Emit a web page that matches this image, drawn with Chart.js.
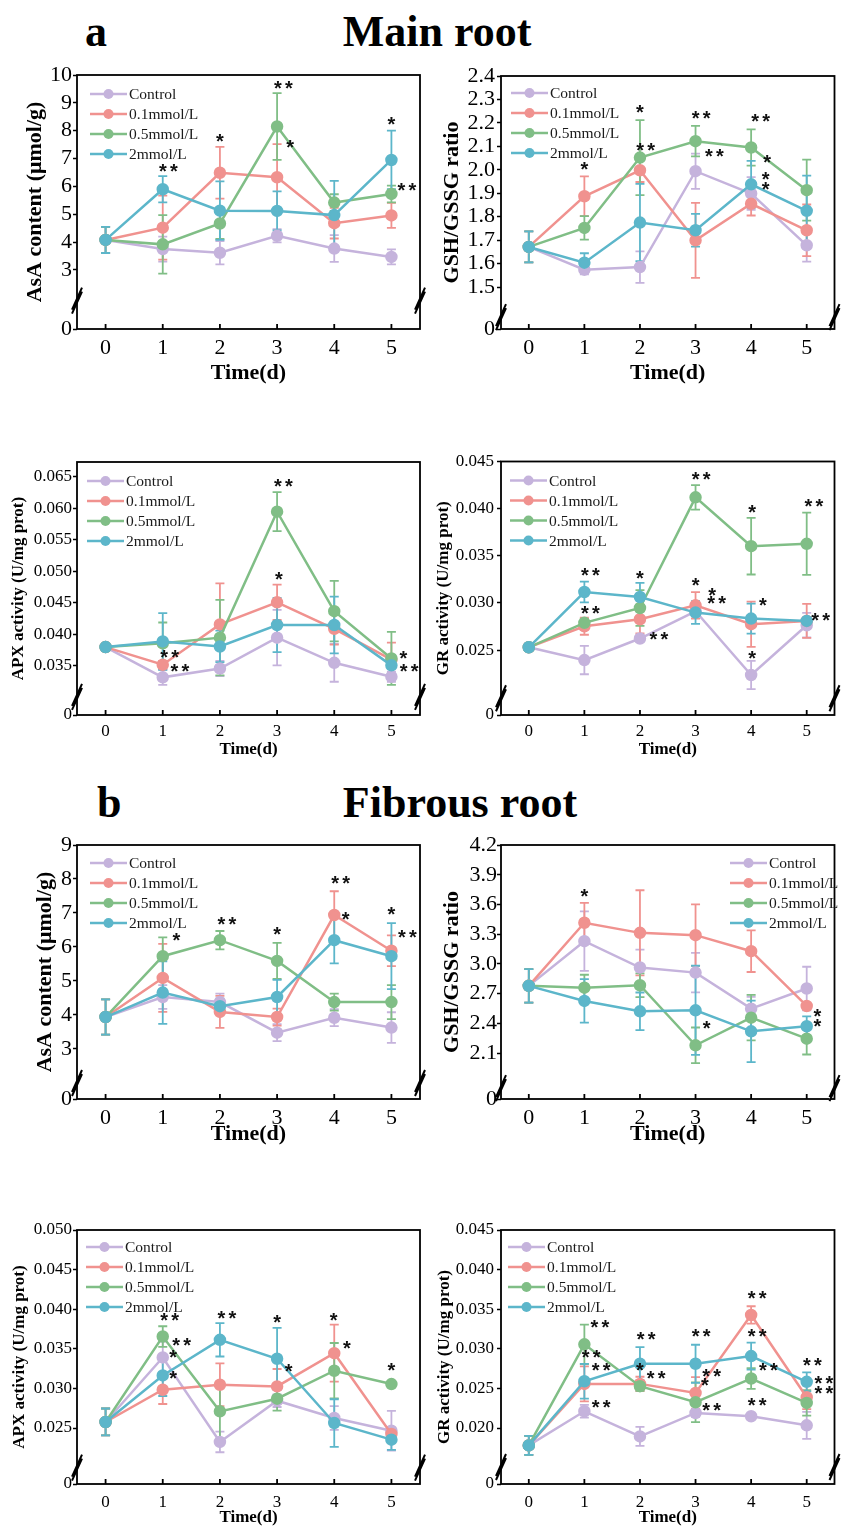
<!DOCTYPE html>
<html lang="en">
<head>
<meta charset="UTF-8">
<title>Main root / Fibrous root</title>
<script src="https://cdn.jsdelivr.net/npm/chart.js"></script>
<style>
  body { margin: 0; background: #fff; }
  #page { position: relative; width: 842px; height: 1529px; background: #fff; overflow: hidden; }
  #page canvas { position: absolute; }
  .head { position: absolute; font-family: "Liberation Serif", "Times New Roman", serif; font-weight: bold;
          font-size: 44px; line-height: 44px; color: #000; white-space: nowrap; }
</style>
</head>
<body>
<div id="page">
  <div class="head" style="left:85px;top:10px">a</div>
  <div class="head" style="left:237px;top:10px;width:400px;text-align:center">Main root</div>
  <div class="head" style="left:97px;top:781px">b</div>
  <div class="head" style="left:260px;top:781px;width:400px;text-align:center">Fibrous root</div>
</div>
<script>
const FONT = '"Liberation Serif", "Times New Roman", serif';

const days = [0, 1, 2, 3, 4, 5];
const seriesNames = ['Control', '0.1mmol/L', '0.5mmol/L', '2mmol/L'];
const seriesColors = ['#c5b3dc', '#f0928f', '#80be86', '#5cb6ca'];

// --- a: main root ---
const mainAsaTicks = [3, 4, 5, 6, 7, 8, 9, 10];
const mainAsaMean = [
  [4.08, 3.75, 3.62, 4.23, 3.77, 3.47],
  [4.08, 4.52, 6.49, 6.33, 4.68, 4.96],
  [4.08, 3.92, 4.67, 8.15, 5.42, 5.73],
  [4.08, 5.90, 5.13, 5.12, 4.97, 6.95]
];
const mainAsaErr = [
  [0.47, 0.45, 0.42, 0.24, 0.48, 0.27],
  [0.47, 1.15, 0.93, 1.19, 0.55, 0.45],
  [0.47, 1.05, 0.55, 1.20, 0.30, 0.30],
  [0.47, 0.47, 1.05, 0.70, 1.23, 1.05]
];
const mainAsaStars = [[1.1, 6.65, '**'], [2.0, 7.73, '*'], [3.11, 9.64, '**'], [3.23, 7.52, '*'], [5.0, 8.33, '*'], [5.27, 5.96, '**']];

const mainGshTicks = [1.5, 1.6, 1.7, 1.8, 1.9, 2.0, 2.1, 2.2, 2.3, 2.4];
const mainGshMean = [
  [1.671, 1.574, 1.585, 1.994, 1.899, 1.678],
  [1.671, 1.887, 1.998, 1.699, 1.855, 1.742],
  [1.671, 1.752, 2.052, 2.122, 2.095, 1.913],
  [1.671, 1.604, 1.775, 1.742, 1.938, 1.825]
];
const mainGshErr = [
  [0.066, 0.02, 0.067, 0.075, 0.07, 0.07],
  [0.066, 0.085, 0.05, 0.16, 0.05, 0.11],
  [0.066, 0.05, 0.16, 0.065, 0.077, 0.13],
  [0.066, 0.04, 0.165, 0.07, 0.10, 0.15]
];
const mainGshStars = [[1.0, 2.013, '*'], [2.0, 2.258, '*'], [2.1, 2.095, '**'], [3.1, 2.233, '**'], [3.34, 2.07, '**'],
  [4.17, 2.219, '**'], [4.29, 2.044, '*'], [4.26, 1.97, '*'], [4.26, 1.927, '*']];

const mainApxTicks = [0.035, 0.040, 0.045, 0.050, 0.055, 0.060, 0.065];
const mainApxMean = [
  [0.0380, 0.0332, 0.0346, 0.0395, 0.0355, 0.0333],
  [0.0380, 0.0352, 0.0416, 0.0451, 0.0409, 0.0360],
  [0.0380, 0.0386, 0.0395, 0.0595, 0.0437, 0.0362],
  [0.0380, 0.0389, 0.0381, 0.0415, 0.0415, 0.0351]
];
const mainApxErr = [
  [0.0005, 0.0012, 0.0012, 0.0044, 0.0030, 0.0008],
  [0.0005, 0.0006, 0.0065, 0.0028, 0.0025, 0.0027],
  [0.0005, 0.0033, 0.0060, 0.0031, 0.0048, 0.0042],
  [0.0005, 0.0045, 0.0025, 0.0043, 0.0045, 0.0015]
];
const mainApxStars = [[3.11, 0.0640, '**'], [3.03, 0.0492, '*'], [1.12, 0.0369, '**'], [1.30, 0.0346, '**'], [5.21, 0.0367, '*'], [5.31, 0.0346, '**']];

const mainGrTicks = [0.025, 0.030, 0.035, 0.040, 0.045];
const mainGrMean = [
  [0.0253, 0.02394, 0.02623, 0.02912, 0.02236, 0.02764],
  [0.0253, 0.02753, 0.02827, 0.02975, 0.02775, 0.02810],
  [0.0253, 0.02789, 0.02947, 0.04120, 0.03602, 0.03627],
  [0.0253, 0.03116, 0.03063, 0.02898, 0.02834, 0.02810]
];
const mainGrErr = [
  [0.0002, 0.0015, 0.0003, 0.0005, 0.0015, 0.0013],
  [0.0002, 0.0009, 0.0015, 0.0014, 0.0024, 0.0018],
  [0.0002, 0.0004, 0.0019, 0.0013, 0.0030, 0.0033],
  [0.0002, 0.0011, 0.0015, 0.0012, 0.0016, 0.0002]
];
const mainGrStars = [[3.1, 0.0434, '**'], [1.11, 0.03327, '**'], [1.11, 0.02922, '**'], [2.0, 0.03292, '*'], [2.34, 0.02641, '**'],
  [3.0, 0.03215, '*'], [3.3, 0.03116, '*'], [3.38, 0.03021, '**'], [4.02, 0.03986, '*'], [4.21, 0.0300, '*'],
  [4.02, 0.02447, '*'], [5.13, 0.04056, '**'], [5.25, 0.02845, '**']];

// --- b: fibrous root ---
const fibAsaTicks = [3, 4, 5, 6, 7, 8, 9];
const fibAsaMean = [
  [3.94, 4.53, 4.38, 3.48, 3.92, 3.63],
  [3.94, 5.09, 4.09, 3.94, 6.94, 5.89],
  [3.94, 5.73, 6.20, 5.59, 4.38, 4.38],
  [3.94, 4.66, 4.26, 4.53, 6.20, 5.73]
];
const fibAsaErr = [
  [0.52, 0.35, 0.25, 0.25, 0.25, 0.45],
  [0.52, 1.00, 0.47, 0.25, 0.70, 0.45],
  [0.52, 0.55, 0.27, 0.53, 0.25, 0.50],
  [0.52, 0.92, 0.22, 0.50, 0.68, 0.97]
];
const fibAsaStars = [[1.24, 6.28, '*'], [2.12, 6.74, '**'], [3.0, 6.45, '*'], [4.11, 7.95, '**'], [4.2, 6.89, '*'], [5.0, 7.04, '*'], [5.28, 6.38, '**']];

const fibGshTicks = [2.1, 2.4, 2.7, 3.0, 3.3, 3.6, 3.9, 4.2];
const fibGshMean = [
  [2.778, 3.229, 2.963, 2.912, 2.548, 2.751],
  [2.778, 3.415, 3.313, 3.290, 3.128, 2.575],
  [2.778, 2.760, 2.784, 2.178, 2.457, 2.245],
  [2.778, 2.626, 2.521, 2.531, 2.319, 2.370]
];
const fibGshErr = [
  [0.17, 0.30, 0.18, 0.20, 0.12, 0.22],
  [0.17, 0.20, 0.43, 0.31, 0.21, 0.03],
  [0.17, 0.13, 0.12, 0.18, 0.23, 0.16],
  [0.17, 0.22, 0.19, 0.45, 0.31, 0.10]
];
const fibGshStars = [[1.0, 3.71, '*'], [3.2, 2.38, '*'], [5.19, 2.498, '*'], [5.19, 2.403, '*']];

const fibApxTicks = [0.025, 0.030, 0.035, 0.040, 0.045, 0.050];
const fibApxMean = [
  [0.02576, 0.03391, 0.02324, 0.02845, 0.02626, 0.02466],
  [0.02576, 0.02983, 0.03046, 0.03025, 0.03445, 0.02424],
  [0.02576, 0.03655, 0.02710, 0.02870, 0.03223, 0.03055],
  [0.02576, 0.03164, 0.03613, 0.03374, 0.02563, 0.02353]
];
const fibApxErr = [
  [0.0017, 0.0020, 0.0013, 0.0008, 0.0015, 0.0025],
  [0.0017, 0.0018, 0.0027, 0.0022, 0.0036, 0.0007],
  [0.0017, 0.0013, 0.0035, 0.0015, 0.0035, 0.0004],
  [0.0017, 0.0026, 0.0021, 0.0039, 0.0030, 0.0013]
];
const fibApxStars = [[1.12, 0.0390, '**'], [1.33, 0.0358, '**'], [1.18, 0.03433, '*'], [1.18, 0.03164, '*'], [2.12, 0.0392, '**'],
  [3.0, 0.03866, '*'], [3.2, 0.03248, '*'], [3.99, 0.03895, '*'], [4.22, 0.03542, '*'], [5.0, 0.03265, '*']];

const fibGrTicks = [0.020, 0.025, 0.030, 0.035, 0.040, 0.045];
const fibGrMean = [
  [0.0178, 0.02211, 0.01894, 0.02190, 0.02148, 0.02034],
  [0.0178, 0.02557, 0.02557, 0.02443, 0.03427, 0.02389],
  [0.0178, 0.03056, 0.02528, 0.02325, 0.02625, 0.02317],
  [0.0178, 0.02590, 0.02811, 0.02811, 0.02908, 0.02583]
];
const fibGrErr = [
  [0.0012, 0.0008, 0.0012, 0.0005, 0.0003, 0.0017],
  [0.0012, 0.0022, 0.0009, 0.0020, 0.0011, 0.0015],
  [0.0012, 0.0025, 0.0006, 0.0025, 0.0013, 0.0016],
  [0.0012, 0.0022, 0.0021, 0.0024, 0.0017, 0.0012]
];
const fibGrStars = [[1.28, 0.0331, '**'], [1.12, 0.02929, '**'], [1.3, 0.0276, '**'], [1.3, 0.02296, '**'], [2.11, 0.03161, '**'],
  [2.0, 0.0277, '*'], [2.29, 0.02667, '**'], [3.1, 0.03191, '**'], [3.29, 0.02684, '**'], [3.17, 0.0257, '*'],
  [3.29, 0.02262, '**'], [4.11, 0.03668, '**'], [4.11, 0.03195, '**'], [4.31, 0.0276, '**'], [4.11, 0.02317, '**'],
  [5.1, 0.02824, '**'], [5.31, 0.02604, '**'], [5.31, 0.02477, '**']];

// layout of the eight panels (page pixels)
const panels = [
  { box: [0, 60, 430, 330], plot: [77, 75, 420, 329], yMin: 0.882, yMax: 10, brk: 1.9, dec: 0,
    ticks: mainAsaTicks, mean: mainAsaMean, err: mainAsaErr, stars: mainAsaStars, yTitle: 'AsA content (μmol/g)',
    yTitleX: 35, big: true, labelRight: 72, xTickY: 347, xTitleY: 373, legend: [13, 19] },
  { box: [430, 60, 412, 330], plot: [501, 76, 841, 329], yMin: 1.321, yMax: 2.4, brk: 1.372, dec: 1,
    ticks: mainGshTicks, mean: mainGshMean, err: mainGshErr, stars: mainGshStars, yTitle: 'GSH/GSSG ratio',
    yTitleX: 452, big: true, labelRight: 495, xTickY: 347, xTitleY: 373, legend: [10, 17] },
  { box: [0, 450, 430, 320], plot: [77, 462, 420, 715], yMin: 0.02722, yMax: 0.06738, brk: 0.0301, dec: 3,
    ticks: mainApxTicks, mean: mainApxMean, err: mainApxErr, stars: mainApxStars, yTitle: 'APX activity (U/mg prot)',
    yTitleX: 19, big: false, labelRight: 72, xTickY: 729, xTitleY: 750, legend: [10, 19] },
  { box: [430, 450, 412, 320], plot: [501, 461, 841, 715], yMin: 0.01812, yMax: 0.045, brk: 0.0199, dec: 3,
    ticks: mainGrTicks, mean: mainGrMean, err: mainGrErr, stars: mainGrStars, yTitle: 'GR activity (U/mg prot)',
    yTitleX: 444, big: false, labelRight: 494, xTickY: 729, xTitleY: 750, legend: [9, 19] },
  { box: [0, 830, 430, 320], plot: [77, 845, 420, 1099], yMin: 1.529, yMax: 9, brk: 2.0, dec: 0,
    ticks: fibAsaTicks, mean: fibAsaMean, err: fibAsaErr, stars: fibAsaStars, yTitle: 'AsA content (μmol/g)',
    yTitleX: 45, big: true, labelRight: 72, xTickY: 1117, xTitleY: 1134, legend: [13, 18] },
  { box: [430, 830, 412, 320], plot: [501, 845, 841, 1099], yMin: 1.636, yMax: 4.2, brk: 1.746, dec: 1,
    ticks: fibGshTicks, mean: fibGshMean, err: fibGshErr, stars: fibGshStars, yTitle: 'GSH/GSSG ratio',
    yTitleX: 452, big: true, labelRight: 497, xTickY: 1117, xTitleY: 1134, legend: [229, 18] },
  { box: [0, 1215, 430, 314], plot: [77, 1230, 420, 1484], yMin: 0.01793, yMax: 0.050, brk: 0.020, dec: 3,
    ticks: fibApxTicks, mean: fibApxMean, err: fibApxErr, stars: fibApxStars, yTitle: 'APX activity (U/mg prot)',
    yTitleX: 20, big: false, labelRight: 72, xTickY: 1500, xTitleY: 1518, legend: [9, 17] },
  { box: [430, 1215, 412, 314], plot: [501, 1230, 841, 1484], yMin: 0.01293, yMax: 0.045, brk: 0.01508, dec: 3,
    ticks: fibGrTicks, mean: fibGrMean, err: fibGrErr, stars: fibGrStars, yTitle: 'GR activity (U/mg prot)',
    yTitleX: 445, big: false, labelRight: 494, xTickY: 1500, xTitleY: 1518, legend: [7, 17] }
];

// error bars, frame, axis breaks, significance stars and the legend
const panelDeco = {
  id: 'panelDeco',
  beforeDatasetsDraw(chart, args, o) {
    const ctx = chart.ctx, xs = chart.scales.x, ys = chart.scales.y;
    ctx.save();
    ctx.lineWidth = 1.8;
    o.mean.forEach((row, i) => {
      ctx.strokeStyle = seriesColors[i];
      ctx.beginPath();
      row.forEach((m, j) => {
        const x = xs.getPixelForValue(days[j]);
        const y1 = ys.getPixelForValue(m + o.err[i][j]);
        const y2 = ys.getPixelForValue(m - o.err[i][j]);
        ctx.moveTo(x, y1); ctx.lineTo(x, y2);
        ctx.moveTo(x - 4.5, y1); ctx.lineTo(x + 4.5, y1);
        ctx.moveTo(x - 4.5, y2); ctx.lineTo(x + 4.5, y2);
      });
      ctx.stroke();
    });
    ctx.restore();
  },
  afterDraw(chart, args, o) {
    const ctx = chart.ctx, a = chart.chartArea, xs = chart.scales.x, ys = chart.scales.y;
    ctx.save();
    ctx.strokeStyle = '#000';
    ctx.lineWidth = 1.8;
    ctx.strokeRect(a.left, a.top, a.right - a.left, a.bottom - a.top);

    // x ticks point inward
    ctx.beginPath();
    days.forEach(d => {
      const x = xs.getPixelForValue(d);
      ctx.moveTo(x, a.bottom); ctx.lineTo(x, a.bottom - 5);
    });
    ctx.stroke();

    // axis break marks on both sides
    const yb = ys.getPixelForValue(o.brk);
    [a.left, a.right].forEach(x => {
      ctx.fillStyle = '#fff';
      ctx.beginPath();
      ctx.moveTo(x - 5, yb + 9); ctx.lineTo(x + 5, yb - 13);
      ctx.lineTo(x + 5, yb - 9); ctx.lineTo(x - 5, yb + 13);
      ctx.closePath();
      ctx.fill();
      ctx.lineWidth = 2;
      ctx.beginPath();
      ctx.moveTo(x - 5, yb + 9); ctx.lineTo(x + 5, yb - 13);
      ctx.moveTo(x - 5, yb + 13); ctx.lineTo(x + 5, yb - 9);
      ctx.stroke();
    });

    // significance marks
    ctx.fillStyle = '#111';
    ctx.font = 'bold 20px "Liberation Sans", Arial, sans-serif';
    ctx.textAlign = 'center';
    ctx.textBaseline = 'middle';
    o.stars.forEach(([sx, sy, txt]) => {
      const px = xs.getPixelForValue(sx), py = ys.getPixelForValue(sy);
      for (let k = 0; k < txt.length; k++) {
        ctx.fillText('*', px + (k - (txt.length - 1) / 2) * 11, py + 4);
      }
    });

    // legend
    ctx.font = '15.5px ' + FONT;
    ctx.textAlign = 'left';
    chart.data.datasets.forEach((ds, i) => {
      const lx = a.left + o.legend[0], ly = a.top + o.legend[1] + i * 20;
      ctx.strokeStyle = ds.borderColor;
      ctx.lineWidth = 2.5;
      ctx.beginPath(); ctx.moveTo(lx, ly); ctx.lineTo(lx + 37, ly); ctx.stroke();
      ctx.fillStyle = ds.borderColor;
      ctx.beginPath(); ctx.arc(lx + 18.5, ly, 5, 0, Math.PI * 2); ctx.fill();
      ctx.fillStyle = '#1a1a1a';
      ctx.fillText(ds.label, lx + 39, ly + 1);
    });
    ctx.restore();
  }
};

const page = document.getElementById('page');

panels.forEach(p => {
  const [bx, by, bw, bh] = p.box;
  const [pl, pt, pr, pb] = p.plot;
  const tickSize = p.big ? 22 : 17;
  const titleSize = p.big ? 22 : 17;

  const cv = document.createElement('canvas');
  cv.width = bw; cv.height = bh;
  cv.style.left = bx + 'px'; cv.style.top = by + 'px';
  page.appendChild(cv);

  new Chart(cv, {
    type: 'line',
    data: {
      datasets: seriesNames.map((name, i) => ({
        label: name,
        data: days.map((d, j) => ({ x: d, y: p.mean[i][j] })),
        borderColor: seriesColors[i],
        backgroundColor: seriesColors[i],
        pointBackgroundColor: seriesColors[i],
        pointBorderColor: seriesColors[i],
        borderWidth: 2.5,
        pointRadius: 5,
        tension: 0,
        order: 4 - i
      }))
    },
    options: {
      responsive: false,
      animation: false,
      events: [],
      layout: { padding: { top: pt - by, right: bx + bw - pr, left: 0, bottom: 0 } },
      plugins: {
        legend: { display: false },
        tooltip: { enabled: false },
        panelDeco: { mean: p.mean, err: p.err, stars: p.stars, brk: p.brk, legend: p.legend }
      },
      scales: {
        x: {
          type: 'linear', min: -0.5, max: 5.5, bounds: 'data',
          afterBuildTicks: s => { s.ticks = days.map(v => ({ value: v })); },
          afterFit: s => { s.height = by + bh - pb; },
          grid: { display: false },
          border: { display: false },
          ticks: { color: '#000', font: { family: FONT, size: tickSize, lineHeight: 1 },
                   padding: p.xTickY - pb - tickSize * 0.8, maxRotation: 0 },
          title: { display: true, text: 'Time(d)', color: '#000',
                   font: { family: FONT, size: titleSize, weight: 'bold', lineHeight: 1 },
                   padding: { top: 0, bottom: by + bh - p.xTitleY - titleSize / 2 } }
        },
        y: {
          type: 'linear', min: p.yMin, max: p.yMax, bounds: 'data',
          afterBuildTicks: s => { s.ticks = [p.yMin].concat(p.ticks).map(v => ({ value: v })); },
          afterFit: s => { s.width = pl - bx; },
          grid: { display: true, drawOnChartArea: false, drawTicks: true, tickLength: 4, tickColor: '#000', tickWidth: 1.5 },
          border: { display: false },
          ticks: { color: '#000', font: { family: FONT, size: tickSize, lineHeight: 1 },
                   padding: pl - p.labelRight - 4,
                   callback: v => Math.abs(v - p.yMin) < 1e-9 ? '0' : v.toFixed(p.dec) },
          title: { display: true, text: p.yTitle, color: '#000',
                   font: { family: FONT, size: titleSize, weight: 'bold', lineHeight: 1 },
                   padding: { top: p.yTitleX - bx - titleSize / 2, bottom: 0 } }
        }
      }
    },
    plugins: [panelDeco]
  });
});
</script>
</body>
</html>
